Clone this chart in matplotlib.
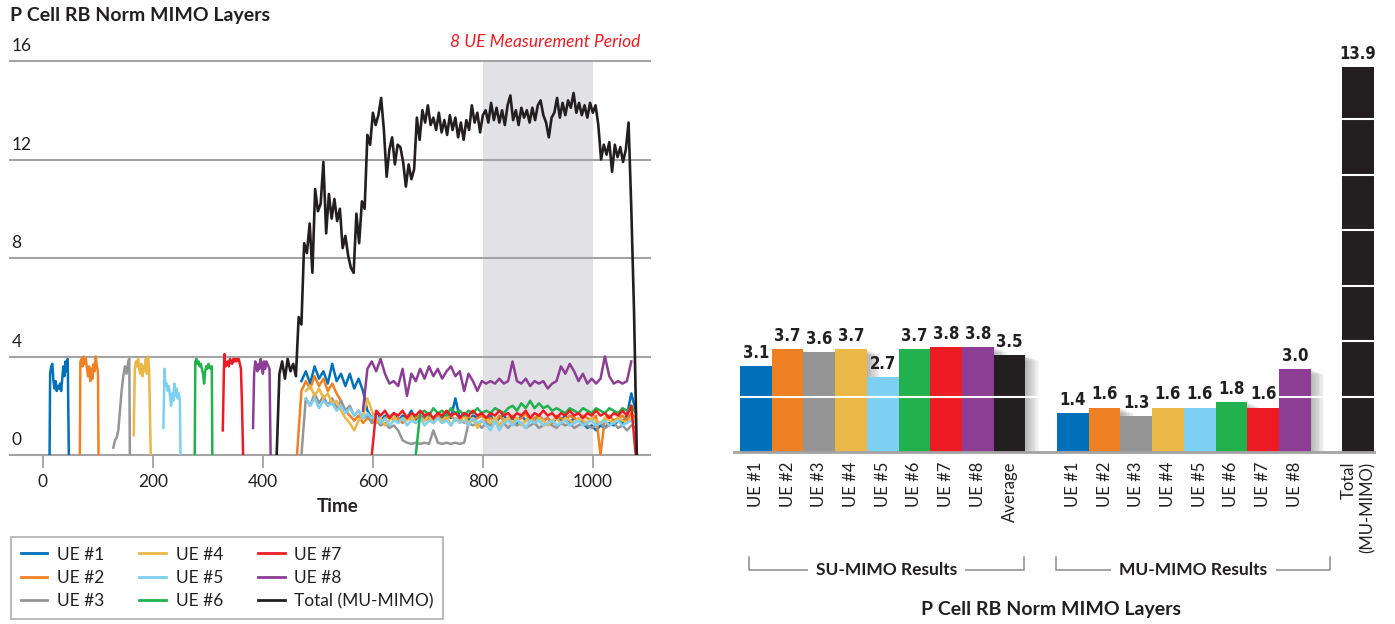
import numpy as np
import matplotlib.pyplot as plt
from matplotlib import patheffects as pe
from matplotlib import transforms as mtransforms

plt.rcParams['font.family'] = ['Lato', 'DejaVu Sans']

nan = np.nan
ink = '#231F20'
grid_gray = '#A3A3A3'
ue_colors = ['#0070BA', '#F08024', '#959595', '#EBB746',
             '#7DD0F2', '#22B14C', '#ED1C24', '#8C3E94']
total_color = '#231F20'
ue_names = ['UE #1', 'UE #2', 'UE #3', 'UE #4', 'UE #5', 'UE #6', 'UE #7', 'UE #8']

# ---- single-user bursts (one UE scheduled at a time) ----
ue1_su_t = [12, 13, 15, 17, 19, 21, 23, 25, 27, 29, 31, 33, 35, 37, 39, 41, 43, 45, 47]
ue1_su = [0, 3.3, 3.6, 3.7, 3.0, 2.7, 3.0, 2.6, 2.8, 2.7, 2.9, 2.6, 3.1, 3.6, 3.2, 3.8, 3.4, 3.9, 0]
ue2_su_t = [67, 68, 70, 72, 74, 76, 78, 80, 82, 84, 86, 88, 90, 92, 94, 96, 98, 100, 101]
ue2_su = [0, 3.8, 3.9, 3.6, 4.0, 3.7, 3.9, 3.5, 3.2, 3.6, 3.0, 3.5, 3.1, 3.7, 3.4, 4.0, 3.6, 3.4, 0]
ue3_su_t = [128, 131, 134, 137, 140, 143, 146, 149, 152, 155, 157, 158]
ue3_su = [0.3, 0.6, 0.7, 1.0, 1.8, 2.6, 3.2, 3.6, 3.3, 3.8, 3.9, 0]
ue4_su_t = [165, 167, 169, 171, 173, 175, 177, 179, 181, 183, 185, 187, 189, 191, 193, 196]
ue4_su = [0.8, 3.5, 3.8, 3.6, 3.9, 3.5, 3.3, 3.7, 3.2, 3.6, 3.4, 3.9, 3.3, 4.0, 3.5, 0]
ue5_su_t = [219, 221, 223, 225, 227, 229, 231, 233, 235, 237, 239, 241, 243, 245, 247, 249, 250]
ue5_su = [1.1, 3.5, 2.8, 2.9, 2.6, 2.8, 2.4, 2.0, 2.5, 2.2, 2.9, 2.4, 2.7, 2.3, 2.5, 2.2, 0]
ue6_su_t = [276, 277, 279, 281, 283, 285, 287, 289, 291, 293, 295, 297, 299, 301, 303, 305, 307, 308]
ue6_su = [0, 3.8, 3.9, 3.7, 3.8, 3.6, 3.7, 3.5, 3.3, 2.9, 3.4, 3.6, 3.5, 3.7, 3.6, 3.5, 3.6, 0]
ue7_su_t = [327, 329, 330, 332, 334, 336, 338, 340, 342, 344, 346, 348, 350, 352, 354, 356, 358, 360, 362, 364]
ue7_su = [1.0, 3.4, 4.1, 3.6, 3.7, 3.8, 3.6, 3.9, 3.8, 3.7, 3.9, 3.8, 3.9, 3.8, 3.9, 3.9, 3.7, 3.5, 2.0, 0]
ue8_su_t = [382, 384, 386, 388, 390, 392, 394, 396, 398, 400, 402, 404, 406, 408, 410, 412, 414]
ue8_su = [1.1, 3.3, 3.8, 3.6, 3.4, 3.7, 3.5, 3.9, 3.6, 3.3, 3.8, 3.5, 3.8, 3.7, 3.6, 3.5, 0]

# ---- multi-user period, sampled every 8 time units from 462 ----
t_mu = np.arange(462, 1079, 8)
ue1_mu = [nan, 3.0, 3.4, 2.9, 3.6, 3.1, 3.4, 2.9, 3.7, 3.0,
          3.3, 2.8, 3.3, 2.7, 3.1, 2.6, 1.8, 1.5, 1.7, 1.4,
          1.6, 1.5, 1.7, 1.4, 1.6, 1.5, 1.8, 1.4, 1.6, 1.5,
          1.7, 1.4, 1.6, 1.5, 1.7, 1.5, 2.3, 1.5, 1.7, 1.4,
          1.6, 1.5, 1.7, 1.4, 1.6, 1.3, 1.5, 1.6, 1.4, 1.5,
          1.3, 1.6, 1.4, 1.5, 1.3, 1.6, 1.4, 1.5, 1.3, 1.5,
          1.4, 1.6, 1.3, 1.5, 1.4, 1.3, 1.1, 1.2, 1.0, 1.2,
          1.1, 1.3, 1.2, 1.4, 1.3, 1.6, 2.5, 1.8]
ue2_mu = [0.0, 2.6, 3.0, 2.7, 3.2, 2.8, 3.1, 2.6, 2.9, 2.5,
          2.2, 1.8, 1.6, 1.4, 1.6, 1.3, 1.5, 1.4, 1.6, 1.3,
          1.5, 1.6, 1.4, 1.5, 1.3, 1.6, 1.4, 1.5, 1.6, 1.4,
          1.5, 1.3, 1.6, 1.4, 1.5, 1.6, 1.4, 1.5, 1.3, 1.6,
          1.4, 1.5, 1.6, 1.4, 1.5, 1.3, 1.6, 1.4, 1.5, 1.6,
          1.4, 1.5, 1.7, 1.4, 1.5, 1.6, 1.4, 1.5, 1.3, 1.6,
          1.5, 1.4, 1.6, 1.5, 1.4, 1.6, 1.5, 1.4, 1.6, 0.0,
          1.5, 1.6, 1.4, 1.5, 1.6, 1.4, 1.7, 1.5]
ue3_mu = [nan, 0.0, 2.3, 2.0, 2.5, 2.1, 2.4, 2.0, 2.3, 1.9,
          2.2, 1.8, 2.0, 1.6, 1.8, 1.5, 1.6, 1.3, 1.4, 1.2,
          1.3, 1.1, 1.2, 1.0, 0.6, 0.5, 0.45, 0.5, 0.45, 0.5,
          0.45, 1.0, 0.5, 0.45, 0.5, 0.45, 0.5, 0.45, 0.5, 1.3,
          1.2, 1.3, 1.1, 1.3, 1.2, 1.4, 1.2, 1.3, 1.1, 1.3,
          1.2, 1.3, 1.1, 1.2, 1.3, 1.1, 1.2, 1.3, 1.2, 1.1,
          1.3, 1.2, 1.3, 1.1, 1.2, 1.3, 1.2, 1.1, 1.2, 1.3,
          1.1, 1.2, 1.3, 1.1, 1.2, 1.0, 1.2, 1.1]
ue4_mu = [nan, nan, 2.6, 2.8, 2.4, 2.7, 2.3, 2.5, 2.1, 2.2,
          1.8, 1.5, 1.3, 1.0, 1.4, 1.6, 2.3, 1.8, 1.3, 1.5,
          1.2, 1.4, 1.6, 1.3, 1.5, 1.4, 1.6, 1.3, 1.5, 1.4,
          1.6, 1.3, 1.5, 1.4, 1.6, 1.2, 1.5, 1.4, 1.6, 1.3,
          1.5, 1.1, 1.4, 1.5, 1.3, 1.5, 1.2, 1.4, 1.5, 1.3,
          1.5, 1.2, 1.4, 1.5, 1.3, 1.5, 1.4, 1.2, 1.4, 1.5,
          1.3, 1.5, 1.4, 1.3, 1.5, 1.4, 1.3, 1.5, 1.4, 1.3,
          1.5, 1.4, 1.3, 1.5, 1.4, 1.3, 1.5, 1.4]
ue5_mu = [nan, nan, 2.3, 2.0, 2.3, 1.9, 2.2, 2.0, 2.1, 1.8,
          2.0, 1.7, 1.9, 1.6, 1.8, 1.5, 1.7, 1.5, 1.6, 1.3,
          1.5, 1.2, 1.4, 1.3, 1.5, 1.2, 1.4, 1.3, 1.5, 1.2,
          1.4, 1.3, 1.5, 1.3, 1.4, 1.2, 1.5, 1.3, 1.4, 1.2,
          1.5, 1.3, 1.4, 1.2, 1.0, 1.4, 1.0, 1.3, 1.4, 1.2,
          1.4, 1.3, 1.1, 1.4, 1.3, 1.4, 1.2, 1.3, 1.4, 1.2,
          1.3, 1.4, 1.2, 1.3, 1.4, 1.2, 1.3, 1.4, 1.2, 1.3,
          1.4, 1.2, 1.3, 1.4, 1.2, 1.3, 1.4, 1.3]
ue6_mu = [nan, nan, nan, nan, nan, nan, nan, nan, nan, nan,
          nan, nan, nan, nan, nan, nan, nan, nan, nan, nan,
          nan, nan, nan, nan, nan, nan, nan, 0.0, 1.7, 1.8,
          1.6, 1.9, 1.7, 1.8, 1.6, 1.9, 1.7, 1.8, 1.6, 1.8,
          1.7, 1.9, 1.7, 1.8, 1.7, 1.9, 1.8, 1.7, 1.9, 2.0,
          1.8, 2.1, 1.9, 2.2, 1.9, 2.1, 1.9, 2.0, 1.8, 1.9,
          1.8, 1.7, 1.9, 1.8, 1.7, 1.9, 1.8, 1.7, 1.9, 1.8,
          1.7, 1.9, 1.8, 1.7, 1.9, 1.8, 2.0, 1.7]
ue7_mu = [nan, nan, nan, nan, nan, nan, nan, nan, nan, nan,
          nan, nan, nan, nan, nan, nan, nan, 0.0, 1.8, 1.6,
          1.8, 1.5, 1.7, 1.6, 1.8, 1.5, 1.7, 1.6, 1.8, 1.6,
          1.7, 1.5, 1.7, 1.6, 1.8, 1.6, 1.7, 1.5, 1.7, 1.6,
          1.8, 1.6, 1.7, 1.5, 1.7, 1.6, 1.8, 1.6, 1.7, 1.5,
          1.7, 1.6, 1.8, 1.5, 1.7, 1.6, 1.8, 1.6, 1.7, 1.5,
          1.7, 1.6, 1.8, 1.6, 1.7, 1.5, 1.7, 1.6, 1.8, 1.6,
          1.7, 1.5, 1.7, 1.6, 1.8, 1.6, 2.0, 0.0]
ue8_mu = [nan, nan, nan, nan, nan, nan, nan, nan, nan, nan,
          nan, nan, nan, nan, nan, 1.8, 3.5, 3.8, 3.4, 3.9,
          3.3, 2.9, 3.0, 2.8, 3.5, 2.4, 3.3, 3.0, 3.5, 3.1,
          3.6, 3.2, 3.5, 3.1, 3.4, 3.6, 3.2, 3.4, 2.6, 3.3,
          3.0, 2.6, 3.0, 2.9, 3.0, 2.9, 3.1, 2.9, 3.0, 3.8,
          3.0, 2.9, 3.1, 2.8, 3.0, 2.9, 3.0, 2.7, 2.9, 3.0,
          3.6, 3.3, 3.7, 3.4, 3.0, 3.3, 2.9, 3.1, 2.9, 3.1,
          4.0, 3.2, 2.9, 3.0, 2.9, 3.0, 3.8, nan]

# ---- total layers, every 5 time units from 425 ----
t_total = np.arange(425, 1081, 5)
total = [0.0, 3.3, 3.8, 3.1, 3.9, 3.4, 3.7, 3.2, 5.6, 5.3,
         8.6, 8.2, 9.4, 7.4, 10.8, 9.9, 10.2, 11.9, 9.0, 10.6,
         9.6, 10.4, 9.5, 10.0, 8.4, 8.9, 8.1, 7.6, 7.4, 9.8,
         8.6, 10.3, 10.0, 13.0, 12.6, 13.9, 13.4, 13.8, 14.5, 13.2,
         11.3, 12.4, 12.9, 11.8, 12.6, 12.5, 11.9, 10.9, 11.8, 11.2,
         11.6, 13.7, 12.8, 14.0, 13.5, 14.2, 13.4, 13.7, 13.2, 13.9,
         13.1, 13.6, 13.0, 13.8, 13.2, 13.7, 12.9, 13.5, 12.8, 13.6,
         13.2, 14.2, 13.5, 13.9, 13.1, 13.8, 14.0, 13.5, 14.3, 13.6,
         14.1, 13.5, 14.0, 13.4, 14.2, 14.6, 13.6, 14.0, 13.4, 14.1,
         13.7, 14.0, 13.5, 14.1, 13.6, 14.2, 14.4, 13.8, 13.5, 12.9,
         13.7, 13.9, 14.5, 13.7, 14.3, 13.8, 14.4, 14.1, 14.7, 13.9,
         14.3, 13.8, 14.2, 13.7, 14.3, 13.9, 14.2, 13.4, 12.0, 12.6,
         12.2, 12.7, 11.5, 12.6, 12.1, 12.5, 11.9, 12.4, 13.5, 10.0,
         5.8, 0.0]

su_bursts = [(ue1_su_t, ue1_su), (ue2_su_t, ue2_su), (ue3_su_t, ue3_su), (ue4_su_t, ue4_su),
             (ue5_su_t, ue5_su), (ue6_su_t, ue6_su), (ue7_su_t, ue7_su), (ue8_su_t, ue8_su)]
mu_series = [ue1_mu, ue2_mu, ue3_mu, ue4_mu, ue5_mu, ue6_mu, ue7_mu, ue8_mu]

# ---- bar chart values ----
su_labels = ue_names + ['Average']
su_values = [3.1, 3.7, 3.6, 3.7, 2.7, 3.7, 3.8, 3.8, 3.5]
mu_labels = ue_names
mu_values = [1.4, 1.6, 1.3, 1.6, 1.6, 1.8, 1.6, 3.0]
total_label = 'Total\n(MU-MIMO)'
total_value = 13.9

fig = plt.figure(figsize=(13.95, 6.24), dpi=100)

# ================= left: time series =================
ax = fig.add_axes([10 / 1395, 169 / 624, 640 / 1395, 394 / 624])
ax.set_xlim(-60, 1104)
ax.set_ylim(0, 16)
ax.axvspan(800, 1000, color='#E1E1E6', lw=0, zorder=0)
for y in [0, 4, 8, 12, 16]:
    ax.axhline(y, color=grid_gray, lw=1.5, zorder=1, clip_on=False)
    ax.annotate(str(y), xy=(0, y), xycoords=('axes fraction', 'data'),
                xytext=(1, 5), textcoords='offset points', ha='left', va='bottom',
                fontsize=12.5, color=ink, annotation_clip=False)

handles = []
for i in range(8):
    st, sv = su_bursts[i]
    ln, = ax.plot(st, sv, color=ue_colors[i], lw=1.8, zorder=2 + i * 0.1)
    ax.plot(t_mu, mu_series[i], color=ue_colors[i], lw=1.8, zorder=2 + i * 0.1)
    handles.append(ln)
ln_tot, = ax.plot(t_total, total, color=total_color, lw=1.9, zorder=3)
handles.append(ln_tot)

for s in ax.spines.values():
    s.set_visible(False)
ax.set_yticks([])
ax.set_xticks([0, 200, 400, 600, 800, 1000])
ax.tick_params(axis='x', length=9, width=1.3, color=grid_gray, pad=5,
               labelsize=12.5, labelcolor=ink)

fig.text(10 / 1395, 1 - 16 / 624, 'P Cell RB Norm MIMO Layers', fontsize=14,
         fontweight='bold', color=ink, ha='left', va='center')
fig.text(640 / 1395, 1 - 42 / 624, '8 UE Measurement Period', fontsize=12.5,
         style='italic', color='#ED1C24', ha='right', va='center')
fig.text(338 / 1395, 1 - 507 / 624, 'Time', fontsize=13.5, fontweight='bold',
         color=ink, ha='center', va='center')

leg = fig.legend(handles, ue_names + ['Total (MU-MIMO)'], ncol=3,
                 loc='upper left', bbox_to_anchor=(11 / 1395, 1 - 537 / 624),
                 frameon=True, fancybox=False, edgecolor=grid_gray,
                 fontsize=12.5, handlelength=1.55, handletextpad=0.55,
                 columnspacing=2.0, labelspacing=0.42, borderpad=0.55,
                 borderaxespad=0)
leg.get_frame().set_linewidth(1.3)
for txt in leg.get_texts():
    txt.set_color(ink)
for h in leg.legend_handles:
    h.set_linewidth(2.0)

# ================= right: bar summary =================
bax = fig.add_axes([734 / 1395, 172 / 624, 640 / 1395, 388 / 624])
su_x = np.arange(len(su_values))
mu_x = np.arange(len(mu_values)) + len(su_values) + 1
tot_x = mu_x[-1] + 2

shadow = [pe.SimplePatchShadow(offset=(k, -0.4 * k), shadow_rgbFace='black', alpha=0.03)
          for k in range(1, 11)] + [pe.Normal()]

su_colors = ue_colors + [total_color]
bars = []
bars += bax.bar(su_x, su_values, width=1.0, color=su_colors, lw=0, zorder=2)
bars += bax.bar(mu_x, mu_values, width=1.0, color=ue_colors, lw=0, zorder=2)
bars += bax.bar([tot_x], [total_value], width=1.0, color=total_color, lw=0, zorder=2)
for b in bars:
    b.set_path_effects(shadow)

for y in range(2, 14, 2):
    bax.axhline(y, color='white', lw=1.5, zorder=3)

for xs, vs in [(su_x, su_values), (mu_x, mu_values), ([tot_x], [total_value])]:
    for x, v in zip(xs, vs):
        bax.annotate(f'{v:.1f}', xy=(x, v), xytext=(0, 3), textcoords='offset points',
                     ha='center', va='bottom', fontsize=12, fontweight='heavy',
                     family=['DejaVu Sans'], fontstretch='condensed', color=ink)

bax.set_xlim(-0.69, 19.5)
bax.set_ylim(0, 14)
bax.set_xticks(list(su_x) + list(mu_x) + [tot_x])
xt = bax.set_xticklabels(su_labels + mu_labels + [total_label], rotation=90,
                         fontsize=12, color=ink)
xt[-1].set_multialignment('right')
bax.tick_params(axis='x', length=0, pad=7)
bax.set_yticks([])
for side in ['left', 'right', 'top']:
    bax.spines[side].set_visible(False)
bax.spines['bottom'].set_color(grid_gray)
bax.spines['bottom'].set_linewidth(2)

# group brackets under the labels
tr = mtransforms.blended_transform_factory(bax.transData, fig.transFigure)
y_lo, y_hi = 1 - 570 / 624, 1 - 557 / 624
for x0, x1, name in [(-0.22, 8.46, 'SU-MIMO Results'), (9.47, 18.12, 'MU-MIMO Results')]:
    bax.plot([x0, x0, x1, x1], [y_hi, y_lo, y_lo, y_hi], transform=tr,
             color='#8C8C8C', lw=1.1, clip_on=False)
    bax.text((x0 + x1) / 2, y_lo, name, transform=tr, ha='center', va='center',
             fontsize=12.5, fontweight='bold', color=ink,
             bbox=dict(facecolor='white', edgecolor='none', pad=6))

fig.text(1051 / 1395, 1 - 609 / 624, 'P Cell RB Norm MIMO Layers', fontsize=14,
         fontweight='bold', color=ink, ha='center', va='center')

fig.savefig('out.png', dpi=100)
